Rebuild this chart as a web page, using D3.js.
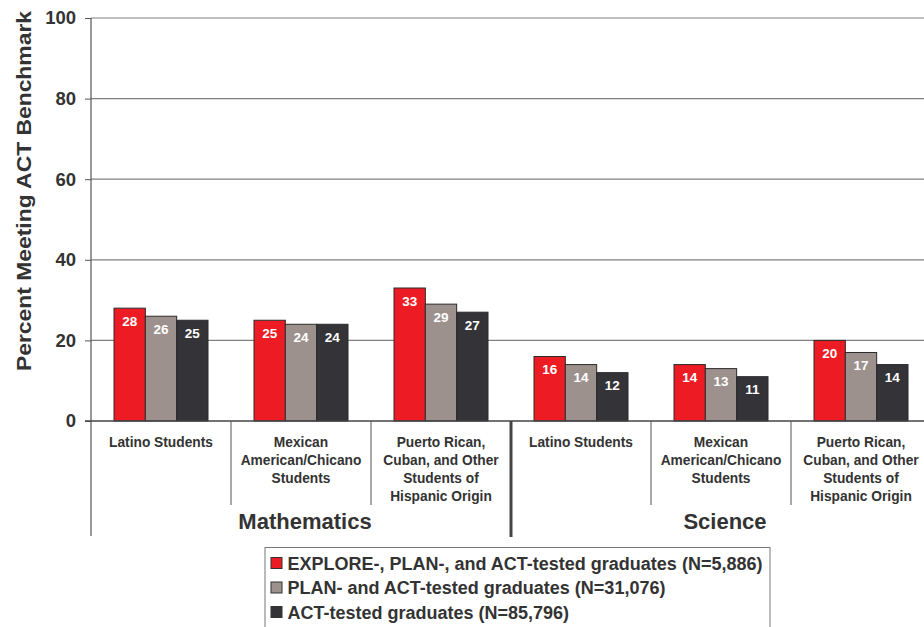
<!DOCTYPE html>
<html><head><meta charset="utf-8">
<script src="https://cdn.jsdelivr.net/npm/d3@7"></script>
<style>body{margin:0;background:#fff}svg{display:block;font-family:"Liberation Sans",Arial,sans-serif}</style>
</head><body><svg id="c" width="924" height="627"></svg>
<script>
const subjects = ["Mathematics", "Science"];
const groups = ["Latino Students", "Mexican American/Chicano Students", "Puerto Rican, Cuban, and Other Students of Hispanic Origin"];
const groupLines = [["Latino Students"], ["Mexican", "American/Chicano", "Students"], ["Puerto Rican,", "Cuban, and Other", "Students of", "Hispanic Origin"]];
const seriesNames = ["EXPLORE-, PLAN-, and ACT-tested graduates (N=5,886)", "PLAN- and ACT-tested graduates (N=31,076)", "ACT-tested graduates (N=85,796)"];
const explore = [28, 25, 33, 16, 14, 20];
const plan = [26, 24, 29, 14, 13, 17];
const act = [25, 24, 27, 12, 11, 14];
const yTicks = [0, 20, 40, 60, 80, 100];
const colors = ["#ed1c24", "#9d918d", "#343338"];

const svg = d3.select("#c");
const cats = [];
subjects.forEach(s => groups.forEach(g => cats.push(s + "|" + g)));
const series = [explore, plan, act];

const x = d3.scaleBand().domain(cats).range([91, 931]).paddingInner(0).paddingOuter(0);
const xi = d3.scaleBand().domain([0,1,2]).range([23, 117]).padding(0);
const y = d3.scaleLinear().domain([0, 100]).range([421, 18]);

// gridlines
svg.append("g").selectAll("line").data(yTicks.filter(d => d > 0)).join("line")
  .attr("x1", 91).attr("x2", 924).attr("y1", d => y(d)).attr("y2", d => y(d))
  .attr("stroke", "#808080").attr("stroke-width", 1.2);

// y axis
const ya = svg.append("g").attr("transform", "translate(91,0)")
  .call(d3.axisLeft(y).tickValues(yTicks).tickSize(6).tickPadding(9));
ya.select(".domain").remove();
ya.selectAll(".tick line").attr("stroke", "#555");
ya.selectAll("text").attr("font-size", 18.5).attr("font-weight", "bold").attr("fill", "#333")
  .attr("font-family", "Liberation Sans, Arial, sans-serif");

// axis line
svg.append("line").attr("x1", 91).attr("x2", 91).attr("y1", 18).attr("y2", 536).attr("stroke", "#555").attr("stroke-width", 1.2);

// bars
cats.forEach((c, ci) => {
  series.forEach((s, si) => {
    const v = s[ci];
    const bx = x(c) + xi(si);
    svg.append("rect").attr("x", bx).attr("y", y(v)).attr("width", xi.bandwidth()).attr("height", y(0) - y(v))
      .attr("fill", colors[si]).attr("stroke", "#2b2b2b").attr("stroke-width", 1);
    svg.append("text").attr("x", bx + xi.bandwidth() / 2).attr("y", y(v) + 17.5)
      .attr("text-anchor", "middle").attr("font-size", 13.5).attr("font-weight", "bold").attr("fill", "#fff").text(v);
  });
});

// zero line
svg.append("line").attr("x1", 85).attr("x2", 924).attr("y1", y(0)).attr("y2", y(0)).attr("stroke", "#444").attr("stroke-width", 1.3);

// category separators
cats.forEach((c, ci) => {
  if (ci > 0 && ci !== 3) {
    svg.append("line").attr("x1", x(c)).attr("x2", x(c)).attr("y1", y(0)).attr("y2", 505).attr("stroke", "#555").attr("stroke-width", 1);
  }
});
svg.append("line").attr("x1", x(cats[3])).attr("x2", x(cats[3])).attr("y1", y(0)).attr("y2", 537).attr("stroke", "#444").attr("stroke-width", 3);

// category labels
cats.forEach((c, ci) => {
  const lines = groupLines[ci % 3];
  const t = svg.append("text").attr("text-anchor", "middle").attr("font-size", 13.75).attr("font-weight", "bold").attr("fill", "#333");
  lines.forEach((l, li) => t.append("tspan").attr("x", x(c) + x.bandwidth() / 2).attr("y", 446.5 + li * 18.1).text(l));
});

// subject labels
subjects.forEach((s, i) => {
  const cx = x(cats[i * 3]) + x.bandwidth() * 1.5;
  svg.append("text").attr("x", cx + 4).attr("y", 529).attr("text-anchor", "middle")
    .attr("font-size", 22).attr("font-weight", "bold").attr("fill", "#333").text(s);
});

// y title
svg.append("text").attr("transform", "translate(31,191) rotate(-90)").attr("text-anchor", "middle")
  .attr("font-size", 21).attr("font-weight", "bold").attr("fill", "#333")
  .attr("textLength", 360).attr("lengthAdjust", "spacingAndGlyphs")
  .text("Percent Meeting ACT Benchmark");

// legend
const lg = svg.append("g");
lg.append("rect").attr("x", 265).attr("y", 547.5).attr("width", 505).attr("height", 90)
  .attr("fill", "#fff").attr("stroke", "#777").attr("stroke-width", 1);
seriesNames.forEach((n, i) => {
  const yy = 563 + i * 24.5;
  lg.append("rect").attr("x", 271).attr("y", yy - 5.5).attr("width", 11).attr("height", 11)
    .attr("fill", colors[i]).attr("stroke", "#333").attr("stroke-width", 1);
  lg.append("text").attr("x", 287.5).attr("y", yy + 6.5).attr("font-size", 18).attr("font-weight", "bold").attr("fill", "#333").text(n);
});
</script></body></html>
